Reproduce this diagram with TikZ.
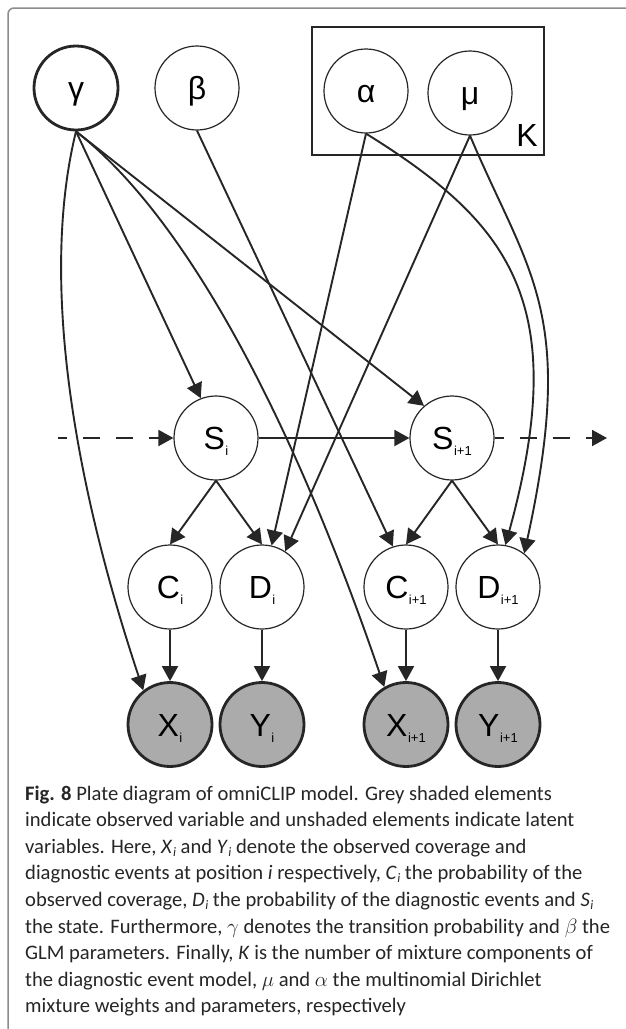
\documentclass[tikz,border=0pt]{standalone}
\usepackage{fontspec}
\setmainfont{Liberation Sans}
\newfontfamily\capfont{Carlito}
\usetikzlibrary{arrows.meta}

\definecolor{ink}{RGB}{38,38,38}
\definecolor{obsfill}{RGB}{170,171,170}
\definecolor{framegray}{RGB}{140,140,140}

% variable name with a small lowered index
\newcommand{\varlab}[2]{#1\kern0.5pt\raisebox{-6pt}{\smash{\fontsize{13}{13}\selectfont #2}}}
% italic symbol with italic index for the caption
\newcommand{\capvar}[2]{\textit{#1}\kern0.5pt\raisebox{-3pt}{\smash{\fontsize{13}{13}\selectfont\itshape #2}}}

\begin{document}
\begin{tikzpicture}[x=1pt,y=-1pt,
  var/.style={circle, draw=ink, line width=1.2pt, fill=white, minimum size=84pt,
    inner sep=0pt, font=\fontsize{32}{36}\selectfont, text height=23pt, text depth=0pt},
  hypervar/.style={var, line width=2.8pt},
  obsvar/.style={var, line width=2.8pt, fill=obsfill},
  link/.style={draw=ink, line width=1.9pt, -{Triangle[length=15pt,width=16pt]}},
  chain/.style={link, dash pattern=on 17pt off 16pt, dash phase=8pt},
  caption/.style={anchor=base west, inner sep=0pt, text=ink,
    font=\capfont\fontsize{20.6}{24}\selectfont},
]
\useasboundingbox (0,0) rectangle (626,1029);
\fill[white] (0,0) rectangle (626,1029);

% outer frame
\draw[framegray, line width=1.5pt, rounded corners=6pt] (8,1029) -- (8,8) -- (626,8);

% plate over the mixture components
\node[draw=ink, line width=1.3pt, minimum width=232pt, minimum height=128pt, inner sep=0pt]
  (plate) at (428,91) {};
\node[font=\fontsize{32}{36}\selectfont, text height=23pt, text depth=0pt, inner sep=0pt]
  (klab) at (527,135) {K};

% hyperparameters
\node[hypervar] (g) at (76,88) {γ};
\node[var] (b) at (197,88) {β};
\node[var] (a) at (366,91) {α};
\node[var] (m) at (470,93) {μ};

% hidden states
\node[var] (s1) at (216,438) {\varlab{S}{i}};
\node[var] (s2) at (452,438) {\varlab{S}{i+1}};

% emission probabilities
\node[var] (c1) at (170,587) {\varlab{C}{i}};
\node[var] (d1) at (262,587) {\varlab{D}{i}};
\node[var] (c2) at (406,587) {\varlab{C}{i+1}};
\node[var] (d2) at (498,587) {\varlab{D}{i+1}};

% observations
\node[obsvar] (x1) at (170,724.5) {\varlab{X}{i}};
\node[obsvar] (y1) at (262,724.5) {\varlab{Y}{i}};
\node[obsvar] (x2) at (406,724.5) {\varlab{X}{i+1}};
\node[obsvar] (y2) at (498,724.5) {\varlab{Y}{i+1}};

% chain ends
\coordinate (cin) at (58,438);
\coordinate (cout) at (607,438);

% transition parameters
\draw[link] (g.south) -- (s1.111);
\draw[link] (g.south) -- (s2.131);
\draw[link] (g.south) .. controls (39,282) and (75,485) .. (x1.128);
\draw[link] (g.south) .. controls (196,225) and (302,446) .. (x2.120);

% GLM parameters
\draw[link] (b.south) -- (c2.108);

% mixture parameters
\draw[link] (a.south) -- (d1.77);
\draw[link] (m.south) -- (d1.57);
\draw[link] (a.south) .. controls (510,223) and (572,303) .. (d2.80);
\draw[link] (m.south) .. controls (529,275) and (577,312) .. (d2.52);

% Markov chain
\draw[chain] (cin) -- (s1.west);
\draw[link] (s1.east) -- (s2.west);
\draw[chain] (s2.east) -- (cout);

% state to emissions
\draw[link] (s1.south) -- (c1.north);
\draw[link] (s1.south) -- (d1.north);
\draw[link] (s2.south) -- (c2.north);
\draw[link] (s2.south) -- (d2.north);

% emissions to observations
\draw[link] (c1.south) -- (x1.north);
\draw[link] (d1.south) -- (y1.north);
\draw[link] (c2.south) -- (x2.north);
\draw[link] (d2.south) -- (y2.north);

% caption
\node[caption] (cap1) at (25,800) {\textbf{Fig. 8} Plate diagram of omniCLIP model. Grey shaded elements};
\node[caption] (cap2) at (25,826.6) {indicate observed variable and unshaded elements indicate latent};
\node[caption] (cap3) at (25,853.2) {variables. Here, \capvar{X}{i} and \capvar{Y}{i} denote the observed coverage and};
\node[caption] (cap4) at (25,879.8) {diagnostic events at position \textit{i} respectively, \capvar{C}{i} the probability of the};
\node[caption] (cap5) at (25,906.4) {observed coverage, \capvar{D}{i} the probability of the diagnostic events and \capvar{S}{i}};
\node[caption] (cap6) at (25,933) {the state. Furthermore, $\gamma$ denotes the transition probability and $\beta$ the};
\node[caption] (cap7) at (25,959.6) {GLM parameters. Finally, \textit{K} is the number of mixture components of};
\node[caption] (cap8) at (25,986.2) {the diagnostic event model, $\mu$ and $\alpha$ the multinomial Dirichlet};
\node[caption] (cap9) at (25,1012.8) {mixture weights and parameters, respectively};
\end{tikzpicture}
\end{document}
